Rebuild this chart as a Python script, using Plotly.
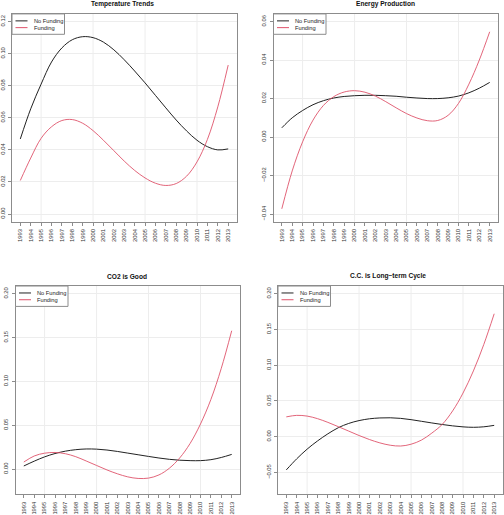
import plotly.graph_objects as go

# ---------------- data ----------------
years = list(range(1993, 2014))

temp_nofund = [0.0468, 0.0656, 0.0810, 0.0948, 0.1036, 0.1087, 0.1106, 0.1100, 0.1072, 0.1024,
               0.0962, 0.0892, 0.0818, 0.0740, 0.0662, 0.0586, 0.0518, 0.0460, 0.0420, 0.0400, 0.0406]
temp_fund = [0.0209, 0.0349, 0.0472, 0.0544, 0.0583, 0.0589, 0.0566, 0.0520, 0.0460, 0.0395,
             0.0330, 0.0272, 0.0225, 0.0192, 0.0178, 0.0190, 0.0236, 0.0325, 0.0465, 0.0668, 0.0929]

energy_nofund = [0.0048, 0.0100, 0.0138, 0.0168, 0.0189, 0.0203, 0.0211, 0.0215, 0.0217, 0.0217,
                 0.0215, 0.0212, 0.0207, 0.0203, 0.0200, 0.0200, 0.0204, 0.0213, 0.0230, 0.0254, 0.0284]
energy_fund = [-0.0373, -0.0176, -0.0025, 0.0088, 0.0164, 0.0210, 0.0234, 0.0241, 0.0233, 0.0213,
               0.0184, 0.0152, 0.0122, 0.0099, 0.0085, 0.0086, 0.0113, 0.0175, 0.0275, 0.0400, 0.0547]

co2_nofund = [0.0036, 0.0091, 0.0140, 0.0178, 0.0205, 0.0222, 0.0230, 0.0228, 0.0218, 0.0202,
              0.0183, 0.0164, 0.0145, 0.0127, 0.0112, 0.0102, 0.0097, 0.0097, 0.0108, 0.0133, 0.0168]
co2_fund = [0.0081, 0.0150, 0.0182, 0.0190, 0.0176, 0.0142, 0.0093, 0.0042, -0.0009, -0.0053,
            -0.0088, -0.0106, -0.0102, -0.0066, 0.0010, 0.0128, 0.0293, 0.0515, 0.0795, 0.1150, 0.1578]

cclt_nofund = [-0.0465, -0.0310, -0.0175, -0.0060, 0.0040, 0.0125, 0.0185, 0.0225, 0.0250, 0.0262,
               0.0264, 0.0256, 0.0238, 0.0215, 0.0192, 0.0170, 0.0151, 0.0137, 0.0131, 0.0138, 0.0158]
cclt_fund = [0.0277, 0.0298, 0.0288, 0.0252, 0.0200, 0.0140, 0.0078, 0.0016, -0.0040, -0.0087,
             -0.0120, -0.0131, -0.0106, -0.0048, 0.0050, 0.0172, 0.0360, 0.0610, 0.0920, 0.1290, 0.1720]

titles = ["Temperature Trends", "Energy Production", "CO2 is Good", "C.C. is Long\u2212term Cycle"]
series_names = ["No Funding", "Funding"]

yticks_temp = [0.00, 0.02, 0.04, 0.06, 0.08, 0.10, 0.12]
yticks_energy = [-0.04, -0.02, 0.00, 0.02, 0.04, 0.06]
yticks_co2 = [0.00, 0.05, 0.10, 0.15, 0.20]
yticks_cclt = [-0.05, 0.00, 0.05, 0.10, 0.15, 0.20]
ylims = [(0.0, 0.12), (-0.04, 0.06), (-0.02, 0.20), (-0.07, 0.20)]
grid_years = [1995, 2000, 2005, 2010]

# ---------------- layout helpers ----------------
W, H = 504, 515
FONT = "Liberation Sans, Arial, Helvetica, sans-serif"
BLACK = "#222222"
RED = "#DF536B"
FRAME = "#8c8c8c"
GRID = "#ededed"

# plot boxes in pixels: left, right, top, bottom
boxes = [(12, 236.5, 14, 223), (273.5, 498, 14, 223),
         (15.5, 240, 287.7, 497.3), (278, 502.5, 287.7, 497.3)]
title_pos = [(122.3, 4.5), (385.5, 4.5), (127.3, 277.7), (387.5, 277.7)]

def px(x):
    return x / W

def py(y):
    return 1 - y / H

data = [(temp_nofund, temp_fund), (energy_nofund, energy_fund),
        (co2_nofund, co2_fund), (cclt_nofund, cclt_fund)]
yticks = [yticks_temp, yticks_energy, yticks_co2, yticks_cclt]

fig = go.Figure()
shapes = []
annotations = []

for i in range(4):
    n = i + 1
    xa = "x" if n == 1 else f"x{n}"
    ya = "y" if n == 1 else f"y{n}"
    nofund, fund = data[i]
    fig.add_trace(go.Scatter(x=years, y=nofund, mode="lines", name=series_names[0],
                             line=dict(color=BLACK, width=1.0, shape="spline", smoothing=1),
                             xaxis=xa, yaxis=ya, showlegend=False))
    fig.add_trace(go.Scatter(x=years, y=fund, mode="lines", name=series_names[1],
                             line=dict(color=RED, width=0.9, shape="spline", smoothing=1),
                             xaxis=xa, yaxis=ya, showlegend=False))

    l, r, t, b = boxes[i]
    lo, hi = ylims[i]
    pad = 0.04 * (hi - lo)
    xkey = "xaxis" if n == 1 else f"xaxis{n}"
    ykey = "yaxis" if n == 1 else f"yaxis{n}"
    common = dict(showline=True, mirror=True, linecolor=FRAME, linewidth=1, zeroline=False,
                  ticks="outside", ticklen=3, tickwidth=0.8, tickcolor=FRAME,
                  tickfont=dict(family=FONT, size=5.8, color="#333333"), tickangle=-90)
    fig.update_layout(**{
        xkey: dict(domain=[px(l), px(r)], anchor=ya, range=[1992.2, 2013.8],
                   tickmode="array", tickvals=years, ticktext=[str(v) for v in years],
                   showgrid=False, ticklabelstandoff=1, **common),
        ykey: dict(domain=[py(b), py(t)], anchor=xa, range=[lo - pad, hi + pad],
                   tickmode="array", tickvals=yticks[i], tickformat=".2f",
                   showgrid=True, gridcolor=GRID, gridwidth=1, ticklabelstandoff=1, **common),
    })
    # vertical grid lines (R grid())
    for gy in grid_years:
        shapes.append(dict(type="line", xref=xa, yref=f"{ya} domain", x0=gy, x1=gy, y0=0, y1=1,
                           line=dict(color=GRID, width=1), layer="below"))
    # title
    tx, ty = title_pos[i]
    annotations.append(dict(text=titles[i], x=px(tx), y=py(ty), xref="paper", yref="paper",
                            xanchor="center", yanchor="middle", showarrow=False,
                            font=dict(family=FONT, size=6.6, color="#111111", weight="bold")))
    # legend box
    lx0, ly0 = l, t
    shapes.append(dict(type="rect", xref="paper", yref="paper",
                       x0=px(lx0), x1=px(lx0 + 52.5), y0=py(ly0 + 20.5), y1=py(ly0),
                       line=dict(color=FRAME, width=1), fillcolor="white", layer="above"))
    for k, (nm, col) in enumerate(zip(series_names, [BLACK, RED])):
        yy = ly0 + 7 + k * 6.8
        shapes.append(dict(type="line", xref="paper", yref="paper",
                           x0=px(lx0 + 3.5), x1=px(lx0 + 15.5), y0=py(yy), y1=py(yy),
                           line=dict(color=col, width=1.0), layer="above"))
        annotations.append(dict(text=nm, x=px(lx0 + 19.5), y=py(yy), xref="paper", yref="paper",
                                xanchor="left", yanchor="middle", showarrow=False,
                                font=dict(family=FONT, size=5.7, color="#222222")))

fig.update_layout(width=W, height=H, margin=dict(l=0, r=0, t=0, b=0),
                  paper_bgcolor="white", plot_bgcolor="white",
                  shapes=shapes, annotations=annotations, showlegend=False)

fig.write_html("out.html", config={"displayModeBar": False},
               post_script="document.body.style.margin='0';document.body.style.padding='0';"
                           "document.body.style.overflow='hidden';")
